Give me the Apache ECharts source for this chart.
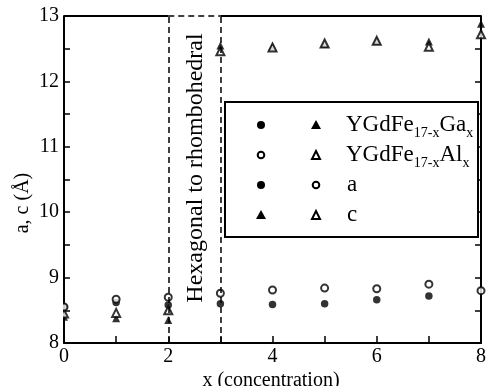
<!DOCTYPE html>
<html>
<head>
<meta charset="utf-8">
<script src="https://cdn.jsdelivr.net/npm/echarts@6/dist/echarts.min.js"></script>
<style>
  html, body { margin: 0; padding: 0; background: #fff; }
  #chart { width: 489px; height: 386px; }
</style>
</head>
<body>
<div id="chart"></div>
<script>
// x (concentration)
const xValues = [0, 1, 2, 3, 4, 5, 6, 7, 8];
// lattice parameters (Å)
const gaA = [8.55, 8.62, 8.58, 8.60, 8.59, 8.60, 8.66, 8.72, null];
const alA = [8.55, 8.67, 8.70, 8.76, 8.81, 8.84, 8.83, 8.90, 8.80];
const gaC = [8.40, 8.38, 8.35, 12.55, 12.53, 12.57, 12.62, 12.61, 12.88];
const alC = [8.45, 8.46, 8.50, 12.46, 12.52, 12.58, 12.62, 12.53, 12.72];

const xTickLabels = ['0', '', '2', '', '4', '', '6', '', '8'];
const yTickLabels = ['8', '9', '10', '11', '12', '13'];

const FONT = '"Liberation Serif", "DejaVu Serif", serif';

const pairs = (ys) => xValues.map((x, i) => [x, ys[i]]).filter(p => p[1] != null);

const chart = echarts.init(document.getElementById('chart'));

const filled = { color: '#000' };
const open = { color: '#fff', borderColor: '#000', borderWidth: 2 };

const option = {
  animation: false,
  grid: { left: 64, right: 2, top: 16, bottom: 43 },
  xAxis: [{
    type: 'value', min: 0, max: 8, interval: 1,
    axisLine: { show: true, lineStyle: { color: '#000', width: 2 } },
    axisTick: { inside: true, length: 7, lineStyle: { color: '#000', width: 1.5 } },
    axisLabel: {
      margin: 4, color: '#000', fontFamily: FONT, fontSize: 20,
      formatter: (v) => xTickLabels[v] || ''
    },
    splitLine: { show: false }
  }],
  yAxis: [{
    type: 'value', min: 8, max: 13, interval: 0.5,
    axisLine: { show: true, lineStyle: { color: '#000', width: 2 } },
    axisTick: { inside: true, length: 6, lineStyle: { color: '#000', width: 1.5 } },
    axisLabel: {
      margin: 5, color: '#000', fontFamily: FONT, fontSize: 20,
      formatter: (v) => Number.isInteger(v) ? yTickLabels[v - 8] : ''
    },
    splitLine: { show: false }
  }, {
    type: 'value', min: 8, max: 13, interval: 0.5, position: 'right',
    axisLine: { show: true, lineStyle: { color: '#000', width: 2 } },
    axisTick: { inside: true, length: 6, lineStyle: { color: '#000', width: 1.5 } },
    axisLabel: { show: false },
    splitLine: { show: false }
  }],
  series: [
    {
      name: 'Ga c', type: 'scatter', symbol: 'triangle', symbolSize: 8,
      itemStyle: filled, data: pairs(gaC), z: 3,
      markLine: {
        silent: true, symbol: 'none', label: { show: false },
        lineStyle: { color: '#000', width: 2, type: 'solid' },
        data: [
          [{ coord: [0, 13] }, { coord: [2, 13] }],
          [{ coord: [3, 13] }, { coord: [8, 13] }],
          [{ coord: [2, 13], lineStyle: { type: [6, 4], width: 1.5 } }, { coord: [3, 13] }],
          [{ coord: [2, 8], lineStyle: { type: [6, 4], width: 1.5 } }, { coord: [2, 13] }],
          [{ coord: [3, 8], lineStyle: { type: [6, 4], width: 1.5 } }, { coord: [3, 13] }]
        ]
      }
    },
    { name: 'Al c', type: 'scatter', symbol: 'triangle', symbolSize: 8, itemStyle: open, data: pairs(alC), z: 4 },
    { name: 'Ga a', type: 'scatter', symbol: 'circle', symbolSize: 7.5, itemStyle: filled, data: pairs(gaA), z: 3 },
    { name: 'Al a', type: 'scatter', symbol: 'circle', symbolSize: 7, itemStyle: open, data: pairs(alA), z: 4 }
  ],
  graphic: [
    // hide the part of the x = 0 markers that falls outside the frame
    { type: 'rect', z: 10, shape: { x: 0, y: 292, width: 63, height: 40 }, style: { fill: '#fff' } },
    // phase-transition label
    {
      type: 'text', x: 196, y: 168, rotation: Math.PI / 2,
      style: { text: 'Hexagonal to rhombohedral', font: '24px ' + FONT, fill: '#000', align: 'center', verticalAlign: 'middle' }
    },
    // axis titles
    {
      type: 'text', x: 23, y: 203, rotation: Math.PI / 2,
      style: { text: 'a, c (Å)', font: '20px ' + FONT, fill: '#000', align: 'center', verticalAlign: 'middle' }
    },
    {
      type: 'text', x: 271, y: 381,
      style: { text: 'x (concentration)', font: '20px ' + FONT, fill: '#000', align: 'center', verticalAlign: 'middle' }
    },
    // legend box
    {
      type: 'rect', z: 10,
      shape: { x: 225, y: 102, width: 253, height: 135 },
      style: { fill: '#fff', stroke: '#000', lineWidth: 2 }
    },
    { type: 'circle', z: 11, shape: { cx: 261, cy: 125, r: 4 }, style: { fill: '#000' } },
    { type: 'polygon', z: 11, shape: { points: [[316, 120], [311, 129], [321, 129]] }, style: { fill: '#000' } },
    { type: 'circle', z: 11, shape: { cx: 261, cy: 155, r: 3.3 }, style: { fill: '#fff', stroke: '#000', lineWidth: 2 } },
    { type: 'polygon', z: 11, shape: { points: [[316, 151], [312, 159], [320, 159]] }, style: { fill: '#fff', stroke: '#000', lineWidth: 2 } },
    { type: 'circle', z: 11, shape: { cx: 261, cy: 185, r: 4 }, style: { fill: '#000' } },
    { type: 'circle', z: 11, shape: { cx: 316, cy: 185, r: 3.3 }, style: { fill: '#fff', stroke: '#000', lineWidth: 2 } },
    { type: 'polygon', z: 11, shape: { points: [[261, 210], [256, 219], [266, 219]] }, style: { fill: '#000' } },
    { type: 'polygon', z: 11, shape: { points: [[316, 211], [312, 219], [320, 219]] }, style: { fill: '#fff', stroke: '#000', lineWidth: 2 } },
    {
      type: 'text', z: 11, x: 346, y: 125,
      style: {
        text: 'YGdFe{s|17-x}Ga{s|x}', fill: '#000', verticalAlign: 'middle',
        font: '23px ' + FONT,
        rich: { s: { fontFamily: FONT, fontSize: 14, padding: [16, 0, 0, 0] } }
      }
    },
    {
      type: 'text', z: 11, x: 346, y: 155,
      style: {
        text: 'YGdFe{s|17-x}Al{s|x}', fill: '#000', verticalAlign: 'middle',
        font: '23px ' + FONT,
        rich: { s: { fontFamily: FONT, fontSize: 14, padding: [16, 0, 0, 0] } }
      }
    },
    { type: 'text', z: 11, x: 347, y: 185, style: { text: 'a', font: '23px ' + FONT, fill: '#000', verticalAlign: 'middle' } },
    { type: 'text', z: 11, x: 347, y: 215, style: { text: 'c', font: '23px ' + FONT, fill: '#000', verticalAlign: 'middle' } }
  ]
};

chart.setOption(option);
</script>
</body>
</html>
